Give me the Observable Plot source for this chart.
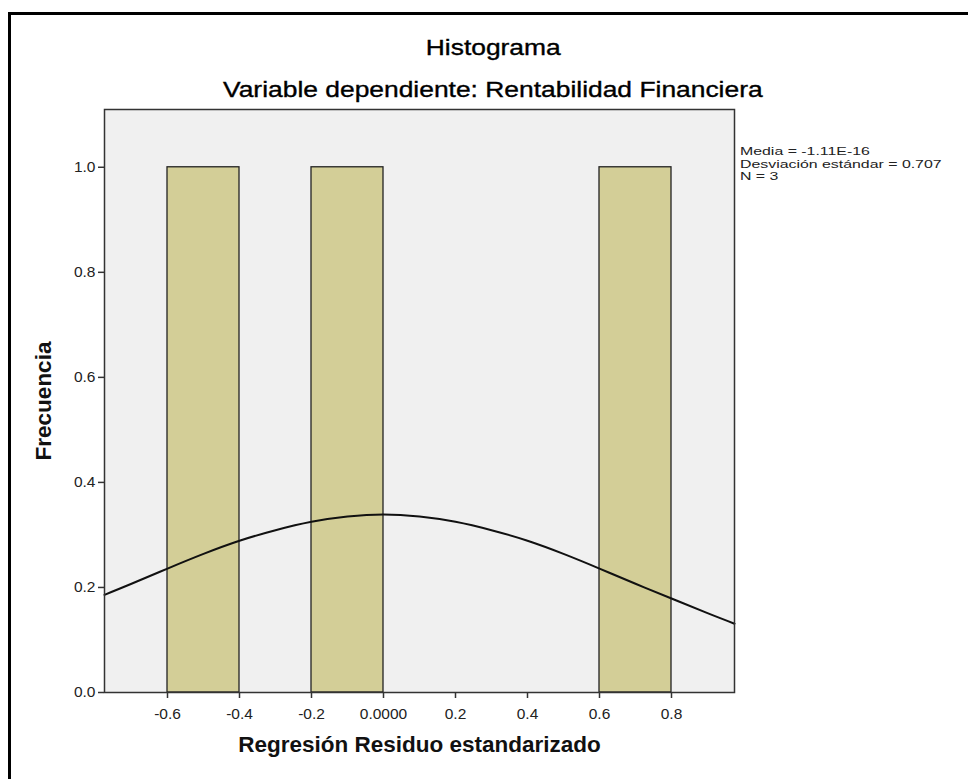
<!DOCTYPE html>
<html>
<head>
<meta charset="utf-8">
<script src="https://cdn.jsdelivr.net/npm/d3@7"></script>
<script src="https://cdn.jsdelivr.net/npm/@observablehq/plot@0.6"></script>
<style>
  html, body { margin: 0; padding: 0; background: #fff; }
  #wrap { position: relative; width: 968px; height: 779px; overflow: hidden; font-family: "Liberation Sans", Arial, sans-serif; }
  #border { position: absolute; left: 8px; top: 12px; width: 980px; height: 800px; border: 3px solid #000; box-sizing: border-box; }
  .title { position: absolute; left: 0; width: 986px; text-align: center; color: #000; line-height: 25px; -webkit-text-stroke: 0.35px #000; }
  .title span { display: inline-block; transform: scaleX(1.2); transform-origin: center; }
  #t1 { top: 35px; font-size: 22px; }
  #t2 { top: 77px; font-size: 22px; }
  #legend { position: absolute; left: 740px; top: 145px; font-size: 11.5px; line-height: 12.5px; color: #222; transform: scaleX(1.38); transform-origin: left top; white-space: nowrap; }
  #chart { position: absolute; left: 0; top: 0; }
</style>
</head>
<body>
<div id="wrap">
  <div id="border"></div>
  <div id="chart"></div>
  <div class="title" id="t1"><span>Histograma</span></div>
  <div class="title" id="t2"><span>Variable dependiente: Rentabilidad Financiera</span></div>
  <div id="legend">Media = -1.11E-16<br>Desviación estándar = 0.707<br>N = 3</div>
</div>
<script>
// Histogram bins (standardized residuals) and frequencies
const binStart = [-0.6, -0.2, 0.6];
const binEnd = [-0.4, 0.0, 0.8];
const freq = [1, 1, 1];

// Normal curve points
const curveX = [-0.775, -0.7, -0.6, -0.5, -0.4, -0.3, -0.2, -0.1, 0.0, 0.1, 0.2, 0.3, 0.4, 0.5, 0.6, 0.7, 0.8, 0.9, 0.975];
const curveY = [0.186, 0.207, 0.236, 0.264, 0.289, 0.309, 0.325, 0.335, 0.339, 0.335, 0.325, 0.309, 0.289, 0.264, 0.236, 0.207, 0.179, 0.151, 0.131];

// Axis ticks
const xTicks = [-0.6, -0.4, -0.2, 0.0, 0.2, 0.4, 0.6, 0.8];
const yTicks = [0.0, 0.2, 0.4, 0.6, 0.8, 1.0];

const bins = binStart.map((b, i) => ({x1: b, x2: binEnd[i], y: freq[i]}));
const curve = curveX.map((x, i) => ({x, y: curveY[i]}));

const chart = Plot.plot({
  width: 968,
  height: 779,
  marginLeft: 104,
  marginRight: 234,
  marginTop: 109,
  marginBottom: 87,
  style: {fontFamily: "'Liberation Sans', Arial, sans-serif", fontSize: "15.5px", color: "#222", background: "transparent"},
  x: {domain: [-0.775, 0.975]},
  y: {domain: [0, 1.11]},
  marks: [
    Plot.frame({fill: "#f0f0f0", stroke: "none"}),
    Plot.rectY(bins, {x1: "x1", x2: "x2", y: "y", fill: "#d3ce97", stroke: "#222", strokeWidth: 1.3}),
    Plot.line(curve, {x: "x", y: "y", stroke: "#111", strokeWidth: 2, curve: "natural"}),
    Plot.frame({stroke: "#333", strokeWidth: 1.5}),
    Plot.axisX({ticks: xTicks, tickSize: 6, tickPadding: 9, stroke: "#333", strokeWidth: 1.5,
      tickFormat: d => d === 0 ? "0.0000" : d.toFixed(1),
      label: "Regresión Residuo estandarizado", labelAnchor: "center", labelArrow: "none", labelOffset: 59,
      fontSize: 15.5}),
    Plot.axisY({ticks: yTicks, tickSize: 6, tickPadding: 3, stroke: "#333", strokeWidth: 1.5,
      tickFormat: d => d.toFixed(1),
      label: "Frecuencia", labelAnchor: "center", labelArrow: "none", labelOffset: 69,
      fontSize: 15.5})
  ]
});
document.getElementById("chart").appendChild(chart);

// style axis labels bold/larger
d3.select(chart).selectAll("[aria-label='x-axis label'] text, [aria-label='y-axis label'] text")
  .attr("font-weight", "bold").attr("font-size", 22.5).attr("fill", "#111");
</script>
</body>
</html>
